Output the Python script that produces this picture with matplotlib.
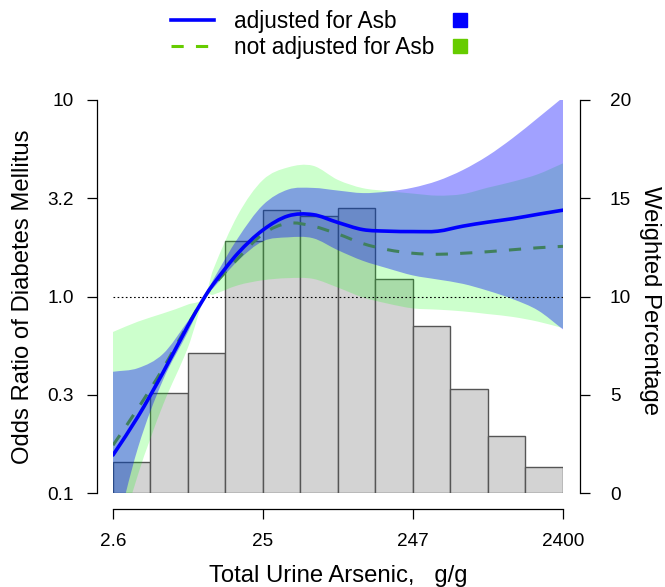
import numpy as np
import matplotlib
matplotlib.use("Agg")
import matplotlib.pyplot as plt
from matplotlib.lines import Line2D
from matplotlib.path import Path
from matplotlib.patches import PathPatch

plt.rcParams['font.family'] = ['Liberation Sans', 'DejaVu Sans']

# ---- data ----
arsenic = [2.6, 3.8, 5.55, 8.11, 10.5, 11.85, 17.3, 25.3, 37.0, 54.0, 78.9,
           115, 168, 246, 359, 525, 767, 1120, 1640, 2400]
or_adj = [0.156, 0.245, 0.41, 0.71, 1.0, 1.15, 1.66, 2.18, 2.57, 2.61, 2.38,
          2.19, 2.15, 2.14, 2.15, 2.28, 2.39, 2.49, 2.62, 2.75]
adj_lo = [0.055, 0.17, 0.375, 0.66, 1.0, 1.10, 1.52, 1.91, 2.00, 1.98, 1.72,
          1.52, 1.39, 1.28, 1.22, 1.16, 1.07, 0.97, 0.85, 0.68]
adj_hi = [0.414, 0.432, 0.51, 0.75, 1.0, 1.21, 1.98, 2.92, 3.50, 3.57, 3.46,
          3.36, 3.42, 3.58, 3.88, 4.40, 5.20, 6.40, 8.10, 10.3]
or_unadj = [0.175, 0.27, 0.43, 0.72, 1.0, 1.13, 1.56, 2.08, 2.36, 2.28, 2.08,
            1.86, 1.73, 1.66, 1.64, 1.66, 1.69, 1.73, 1.77, 1.80]
unadj_lo = [0.045, 0.124, 0.28, 0.55, 1.0, 1.02, 1.14, 1.21, 1.24, 1.23, 1.11,
            0.99, 0.92, 0.87, 0.857, 0.84, 0.814, 0.787, 0.745, 0.69]
unadj_hi = [0.66, 0.745, 0.82, 0.91, 1.0, 1.36, 2.60, 3.92, 4.54, 4.63, 3.92,
            3.56, 3.44, 3.34, 3.26, 3.32, 3.58, 3.84, 4.19, 4.76]

bin_edges = [2.6, 4.59, 8.11, 14.3, 25.3, 44.7, 79.0, 139, 246, 435, 768, 1357, 2400]
weighted_pct = [1.6, 5.1, 7.1, 12.8, 14.4, 14.1, 14.5, 10.9, 8.5, 5.3, 2.9, 1.3]

x_ticks = [2.6, 25.3, 246.6, 2400]
x_ticklabels = ['2.6', '25', '247', '2400']
y_ticks = [0.1, 0.316, 1.0, 3.16, 10]
y_ticklabels = ['0.1', '0.3', '1.0', '3.2', '10']
pct_ticks = [0, 5, 10, 15, 20]


def bezier_segments(xs, ys):
    """Smooth (cubic Hermite) Bezier segments through the given points,
    built in log-log space so the log axes map them to smooth curves."""
    X = np.log10(np.asarray(xs, float))
    Y = np.log10(np.asarray(ys, float))
    n = len(X)
    m = np.empty(n)
    m[0] = (Y[1] - Y[0]) / (X[1] - X[0])
    m[-1] = (Y[-1] - Y[-2]) / (X[-1] - X[-2])
    for i in range(1, n - 1):
        m[i] = (Y[i + 1] - Y[i - 1]) / (X[i + 1] - X[i - 1])
    verts = []
    for i in range(n - 1):
        dx = X[i + 1] - X[i]
        c1 = (X[i] + dx / 3, Y[i] + m[i] * dx / 3)
        c2 = (X[i + 1] - dx / 3, Y[i + 1] - m[i + 1] * dx / 3)
        verts += [c1, c2, (X[i + 1], Y[i + 1])]
    start = (X[0], Y[0])
    to_data = lambda p: (10 ** p[0], 10 ** p[1])
    return to_data(start), [to_data(v) for v in verts]


def curve_path(xs, ys):
    start, verts = bezier_segments(xs, ys)
    codes = [Path.MOVETO] + [Path.CURVE4] * len(verts)
    return Path([start] + verts, codes)


def band_path(xs, lo, hi):
    s1, v1 = bezier_segments(xs, hi)
    s2, v2 = bezier_segments(xs[::-1], lo[::-1])
    verts = [s1] + v1 + [s2] + v2 + [s1]
    codes = ([Path.MOVETO] + [Path.CURVE4] * len(v1) + [Path.LINETO]
             + [Path.CURVE4] * len(v2) + [Path.CLOSEPOLY])
    return Path(verts, codes)


# ---- figure ----
W, H = 665, 587
fig = plt.figure(figsize=(W / 100, H / 100), dpi=100)
ax = fig.add_axes([113 / W, 94 / H, 450 / W, 393 / H])
ax.set_xscale('log')
ax.set_yscale('log')
ax2 = ax.twinx()
ax.set_zorder(ax2.get_zorder() + 1)
ax.patch.set_visible(False)

ax.set_xlim(2.6, 2400)
ax.set_ylim(0.1, 10)
ax2.set_ylim(0, 20)

# histogram
edges = np.array(bin_edges)
ax2.bar(edges[:-1], weighted_pct, width=np.diff(edges), align='edge',
        color='#d3d3d3', edgecolor='#555555', linewidth=1.0)

# bands and curves
ax.add_patch(PathPatch(band_path(arsenic, unadj_lo, unadj_hi),
                       facecolor='#00ff00', alpha=0.2, linewidth=0, zorder=1))
ax.add_patch(PathPatch(curve_path(arsenic, or_unadj), fill=False,
                       edgecolor='#66cc00', lw=2.2, linestyle=(0, (4, 4)),
                       capstyle='butt', zorder=1.5))
ax.add_patch(PathPatch(band_path(arsenic, adj_lo, adj_hi),
                       facecolor='#0000ff', alpha=0.37, linewidth=0, zorder=2))
ax.axhline(1.0, color='black', lw=0.8, dashes=(1.5, 2.2), zorder=2.5)
ax.add_patch(PathPatch(curve_path(arsenic, or_adj), fill=False,
                       edgecolor='#0000ff', lw=2.6, capstyle='round', zorder=3))

# axes styling (R-like detached axes)
out_l = 16 * 72 / 100
out_r = 17 * 72 / 100
for s in ['top', 'right']:
    ax.spines[s].set_visible(False)
ax.spines['left'].set_position(('outward', out_l))
ax.spines['bottom'].set_position(('outward', out_l))
ax.spines['left'].set_bounds(0.1, 10)
ax.spines['bottom'].set_bounds(2.6, 2400)
for s in ['top', 'left', 'bottom']:
    ax2.spines[s].set_visible(False)
ax2.spines['right'].set_position(('outward', out_r))
ax2.spines['right'].set_bounds(0, 20)
for sp in [ax.spines['left'], ax.spines['bottom'], ax2.spines['right']]:
    sp.set_linewidth(0.9)

ax.set_xticks(x_ticks)
ax.set_xticklabels(x_ticklabels)
ax.xaxis.set_minor_locator(matplotlib.ticker.NullLocator())
ax.set_yticks(y_ticks)
ax.set_yticklabels(y_ticklabels)
ax.yaxis.set_minor_locator(matplotlib.ticker.NullLocator())
ax2.set_yticks(pct_ticks)
ax2.set_yticklabels([str(t) for t in pct_ticks])

ax.tick_params(axis='x', length=7.5, width=0.9, labelsize=13.7, pad=9.5)
ax.tick_params(axis='y', length=7.5, width=0.9, labelsize=13.7, pad=9)
ax2.tick_params(axis='y', length=7.5, width=0.9, labelsize=13.7, pad=14)

# labels
fig.text(338 / W, (H - 582) / H, 'Total Urine Arsenic,   g/g', ha='center',
         va='baseline', fontsize=17.2)
fig.text(23.5 / W, 1 - 296.5 / H, 'Odds Ratio of Diabetes Mellitus', rotation=90,
         ha='center', va='center', fontsize=17.2)
fig.text(650 / W, 1 - 300 / H, 'Weighted Percentage', rotation=-90,
         ha='center', va='center', fontsize=17.2)

# legend
h1 = Line2D([], [], color='#0000ff', lw=2.6)
h2 = Line2D([], [], color='#66cc00', lw=2.2, dashes=(4, 4))
s1 = Line2D([], [], marker='s', ms=10, color='#0000ff', ls='none')
s2 = Line2D([], [], marker='s', ms=10, color='#66cc00', ls='none')
fig.legend([h1, h2, s1, s2], ['adjusted for Asb', 'not adjusted for Asb', '', ''],
           ncol=2, frameon=False, loc='upper left',
           bbox_to_anchor=(170.7 / W, 1 - 10 / H), fontsize=16.3,
           handlelength=1.9, handletextpad=0.88, columnspacing=0.22,
           borderpad=0, borderaxespad=0, labelspacing=0.12)

fig.savefig('out.png', dpi=100)
